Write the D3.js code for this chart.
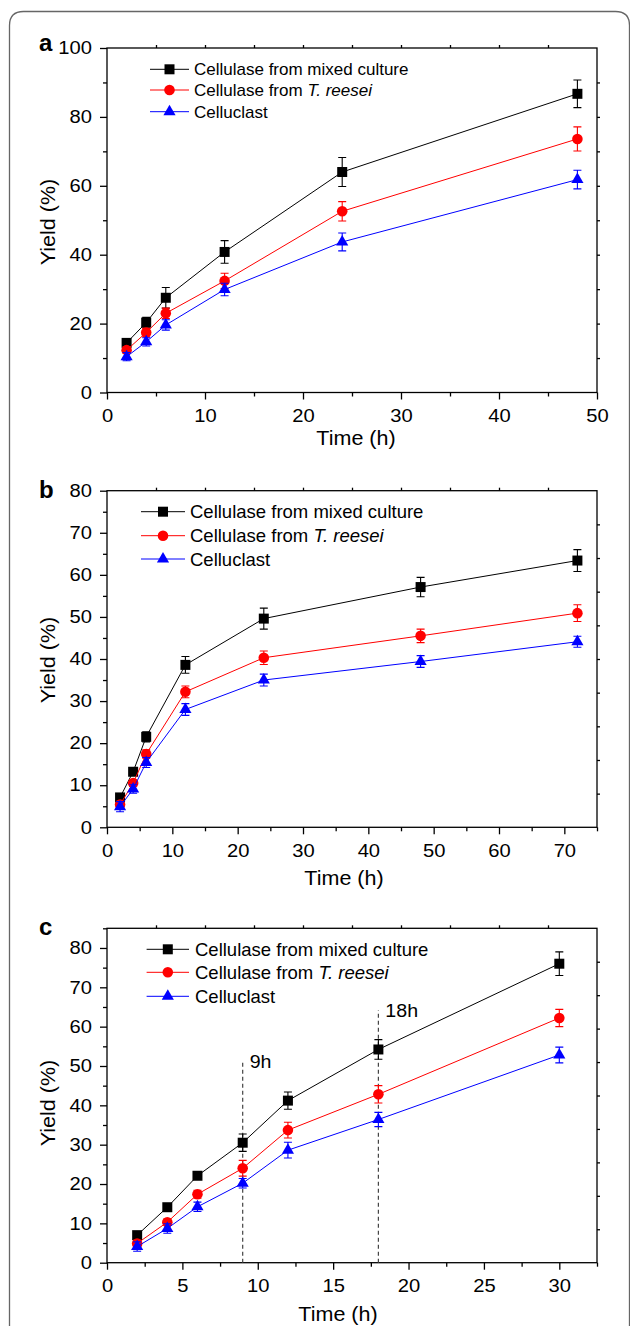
<!DOCTYPE html>
<html>
<head>
<meta charset="utf-8">
<script src="https://cdn.jsdelivr.net/npm/d3@7"></script>
<style>
  body { margin: 0; background: #fff; }
  svg { display: block; }
  text { font-family: "Liberation Sans", Arial, sans-serif; }
</style>
</head>
<body>
<svg id="fig" width="630" height="1326"></svg>
<script>
// ---- data ----
const seriesNames = ["Cellulase from mixed culture", "Cellulase from ", "Celluclast"];

// panel a
const timeA = [2, 4, 6, 12, 24, 48];
const mixedA = [14.4, 20.3, 27.5, 40.8, 64.0, 86.7];
const mixedErrA = [1.0, 1.5, 3.0, 3.3, 4.2, 4.0];
const reeseiA = [12.3, 17.4, 23.0, 32.4, 52.6, 73.6];
const reeseiErrA = [1.0, 1.2, 1.5, 2.2, 2.8, 3.5];
const clastA = [10.4, 14.7, 19.6, 29.9, 43.7, 61.8];
const clastErrA = [1.2, 1.2, 1.5, 1.8, 2.6, 2.7];
const xTicksA = [0, 10, 20, 30, 40, 50];
const yTicksA = [0, 20, 40, 60, 80, 100];

// panel b
const timeB = [2, 4, 6, 12, 24, 48, 72];
const mixedB = [7.1, 13.2, 21.5, 38.6, 49.6, 57.1, 63.4];
const mixedErrB = [0.8, 0.8, 1.2, 2.0, 2.5, 2.3, 2.6];
const reeseiB = [5.4, 10.5, 17.4, 32.2, 40.3, 45.5, 50.9];
const reeseiErrB = [0.8, 0.8, 1.0, 1.4, 1.6, 1.6, 2.0];
const clastB = [4.9, 9.1, 15.4, 28.0, 35.0, 39.4, 44.1];
const clastErrB = [1.2, 1.0, 1.2, 1.4, 1.4, 1.4, 1.3];
const xTicksB = [0, 10, 20, 30, 40, 50, 60, 70];
const yTicksB = [0, 10, 20, 30, 40, 50, 60, 70, 80];

// panel c
const timeC = [2, 4, 6, 9, 12, 18, 30];
const mixedC = [7.0, 14.1, 22.1, 30.5, 41.2, 54.2, 76.0];
const mixedErrC = [0.5, 0.6, 0.6, 2.2, 2.2, 2.5, 3.0];
const reeseiC = [4.9, 10.3, 17.4, 24.0, 33.7, 42.8, 62.2];
const reeseiErrC = [0.8, 0.8, 1.0, 2.0, 2.0, 2.2, 2.2];
const clastC = [4.1, 8.7, 14.2, 20.2, 28.6, 36.4, 52.8];
const clastErrC = [1.2, 1.2, 1.2, 1.2, 2.0, 1.8, 2.0];
const xTicksC = [0, 5, 10, 15, 20, 25, 30];
const yTicksC = [0, 10, 20, 30, 40, 50, 60, 70, 80];
const markTimes = [9, 18];
const markTops = [50.8, 64.2];
const markLabels = ["9h", "18h"];

// ---- styling ----
const colors = ["#000000", "#ff0000", "#0000ff"];
const symbols = [d3.symbolSquare, d3.symbolCircle, d3.symbolTriangle];
const symSize = [100, 88, 64];
const left = 107, right = 597;

const svg = d3.select("#fig");

// outer rounded frame (right and bottom run off the picture)
svg.append("path")
  .attr("d", "M9.5,1326 V25.5 Q9.5,11.5 23.5,11.5 H615.5 Q629.5,11.5 629.5,25.5 V1326")
  .attr("fill", "none").attr("stroke", "#666").attr("stroke-width", 1.3);

function stretch(sel, f) {
  sel.each(function() {
    const w = this.getComputedTextLength();
    d3.select(this).attr("textLength", w * f).attr("lengthAdjust", "spacingAndGlyphs");
  });
}

const panels = [
  {label: "a", labelY: 50.7, top: 48, bottom: 392.5, xMax: 50, xMinor: 5, yMax: 100, yMinor: 10,
   xTicks: xTicksA, yTicks: yTicksA, time: timeA,
   vals: [mixedA, reeseiA, clastA], errs: [mixedErrA, reeseiErrA, clastErrA],
   leg: {rows: [69.3, 90, 111.7], x0: 150, x1: 189, tx: 194, fs: 17},
   xTitle: [356, 445], yTitle: 222},
  {label: "b", labelY: 498, top: 490.7, bottom: 827.3, xMax: 75, xMinor: 5, yMax: 80, yMinor: 5,
   xTicks: xTicksB, yTicks: yTicksB, time: timeB,
   vals: [mixedB, reeseiB, clastB], errs: [mixedErrB, reeseiErrB, clastErrB],
   leg: {rows: [511.7, 535.7, 559], x0: 141, x1: 185, tx: 190, fs: 18.5},
   xTitle: [344, 885], yTitle: 660},
  {label: "c", labelY: 935, top: 928.3, bottom: 1262.7, xMax: 32.5, xMinor: 2.5, yMax: 85, yMinor: 5,
   xTicks: xTicksC, yTicks: yTicksC, time: timeC,
   vals: [mixedC, reeseiC, clastC], errs: [mixedErrC, reeseiErrC, clastErrC],
   leg: {rows: [949.3, 972.3, 996.3], x0: 146.6, x1: 189, tx: 195, fs: 18.5},
   xTitle: [338, 1321], yTitle: 1103, marks: true}
];

panels.forEach(function(p) {
  const x = d3.scaleLinear().domain([0, p.xMax]).range([left, right]);
  const y = d3.scaleLinear().domain([0, p.yMax]).range([p.bottom, p.top]);
  const g = svg.append("g");

  // minor positions (between majors)
  const xMin = d3.range(p.xMinor, p.xMax + 1e-9, p.xMinor).filter(v => !p.xTicks.includes(v));
  const yMin = d3.range(p.yMinor, p.yMax + 1e-9, p.yMinor).filter(v => !p.yTicks.includes(v));
  const xTen = d3.range(1, 10).map(i => i * p.xMax / 10);
  const yTen = d3.range(1, 10).map(i => i * p.yMax / 10);

  function axis(a, pos) {
    const ag = g.append("g").attr("transform", pos).call(a);
    ag.select(".domain").remove();
    ag.selectAll("line").attr("stroke", "#000").attr("stroke-width", 1.3);
    ag.attr("font-family", null).attr("font-size", 18);
    ag.selectAll("text").attr("fill", "#000");
    return ag;
  }
  const xa = axis(d3.axisBottom(x).tickValues(p.xTicks).tickSize(7).tickPadding(8).tickFormat(d3.format("d")), `translate(0,${p.bottom})`);
  xa.selectAll("text").attr("y", 29.5).attr("dy", null);
  stretch(xa.selectAll("text"), 1.12);
  axis(d3.axisBottom(x).tickValues(xMin).tickSize(4).tickFormat(""), `translate(0,${p.bottom})`);
  const ya = axis(d3.axisLeft(y).tickValues(p.yTicks).tickSize(7).tickPadding(8).tickFormat(d3.format("d")), `translate(${left},0)`);
  stretch(ya.selectAll("text"), 1.12);
  axis(d3.axisLeft(y).tickValues(yMin).tickSize(4).tickFormat(""), `translate(${left},0)`);
  axis(d3.axisTop(x).tickValues(xTen).tickSize(3).tickFormat(""), `translate(0,${p.top})`);
  axis(d3.axisRight(y).tickValues(yTen).tickSize(3).tickFormat(""), `translate(${right},0)`);

  g.append("rect")
    .attr("x", left).attr("y", p.top)
    .attr("width", right - left).attr("height", p.bottom - p.top)
    .attr("fill", "none").attr("stroke", "#000").attr("stroke-width", 1.3);

  // dashed markers in panel c
  if (p.marks) {
    markTimes.forEach(function(t, i) {
      g.append("line")
        .attr("x1", x(t)).attr("x2", x(t)).attr("y1", y(0)).attr("y2", y(markTops[i]))
        .attr("stroke", "#444").attr("stroke-width", 1.2).attr("stroke-dasharray", "4,3");
      const tl = g.append("text").attr("x", x(t) + 7).attr("y", y(markTops[i]) + (i === 0 ? 5 : 7))
        .attr("font-size", 17.5).text(markLabels[i]);
      stretch(tl, 1.12);
    });
  }

  // series
  p.vals.forEach(function(vals, s) {
    const pts = p.time.map((t, i) => ({t: t, v: vals[i], e: p.errs[s][i]}));
    g.append("path").datum(pts)
      .attr("d", d3.line().x(d => x(d.t)).y(d => y(d.v)))
      .attr("fill", "none").attr("stroke", colors[s]).attr("stroke-width", 1);
    g.selectAll(null).data(pts).enter().append("path")
      .attr("d", d => {
        const cx = x(d.t), y0 = y(d.v - d.e), y1 = y(d.v + d.e);
        return `M${cx},${y0}V${y1}M${cx - 4},${y0}H${cx + 4}M${cx - 4},${y1}H${cx + 4}`;
      })
      .attr("fill", "none").attr("stroke", colors[s]).attr("stroke-width", 1.1);
    g.selectAll(null).data(pts).enter().append("path")
      .attr("transform", d => `translate(${x(d.t)},${y(d.v)})`)
      .attr("d", d3.symbol().type(symbols[s]).size(symSize[s]))
      .attr("fill", colors[s]);
  });

  // legend
  p.leg.rows.forEach(function(ry, s) {
    g.append("line").attr("x1", p.leg.x0).attr("x2", p.leg.x1).attr("y1", ry).attr("y2", ry)
      .attr("stroke", colors[s]).attr("stroke-width", 1);
    g.append("path").attr("transform", `translate(${(p.leg.x0 + p.leg.x1) / 2},${ry})`)
      .attr("d", d3.symbol().type(symbols[s]).size(symSize[s])).attr("fill", colors[s]);
    const t = g.append("text").attr("x", p.leg.tx).attr("y", ry + p.leg.fs * 0.36)
      .attr("font-size", p.leg.fs).text(seriesNames[s]);
    if (s === 1) t.append("tspan").attr("font-style", "italic").text("T. reesei");
  });

  // titles
  const xt = g.append("text").attr("x", p.xTitle[0]).attr("y", p.xTitle[1])
    .attr("text-anchor", "middle").attr("font-size", 20.5).text("Time (h)");
  stretch(xt, 1.05);
  const yt = g.append("text").attr("transform", `translate(55,${p.yTitle}) rotate(-90)`)
    .attr("text-anchor", "middle").attr("font-size", 20.5).text("Yield (%)");
  stretch(yt, 1.05);
  g.append("text").attr("x", 39).attr("y", p.labelY)
    .attr("font-size", 24).attr("font-weight", "bold").text(p.label);
});
</script>
</body>
</html>
